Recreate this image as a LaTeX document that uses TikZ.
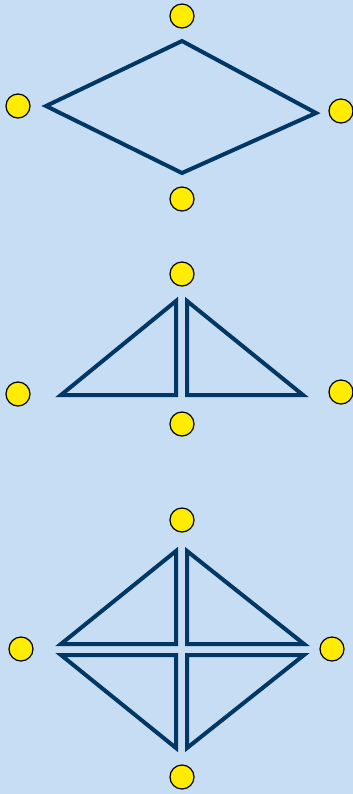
\documentclass[tikz,border=0pt]{standalone}
\usepackage{tikz}
\definecolor{paneback}{HTML}{C6DDF3}
\definecolor{edgeblue}{HTML}{003764}
\definecolor{dotyellow}{HTML}{FFEC00}
\tikzset{
  dot/.style={circle, draw=black, fill=dotyellow, line width=0.3mm,
              minimum size=6mm, inner sep=0pt},
  outline/.style={draw=edgeblue, line width=1mm, miter limit=10},
}
\begin{document}
\begin{tikzpicture}[x=0.25mm, y=-0.25mm]
    \fill[paneback] (0,0) rectangle (353,794);
    \useasboundingbox (0,0) rectangle (353,794);
    \node[dot] (a-n) at (182,16) {};
    \node[dot] (a-w) at (18,106) {};
    \node[dot] (a-e) at (341,111) {};
    \node[dot] (a-s) at (182,199) {};
    \draw[outline] (182,41) -- (46,106) -- (182,173) -- (316,113) -- cycle;
    \node[dot] (b-n) at (182,274) {};
    \node[dot] (b-w) at (18,394) {};
    \node[dot] (b-e) at (341,392) {};
    \node[dot] (b-s) at (182,424) {};
    \draw[outline] (176,301) -- (176,395) -- (61,395) -- cycle;
    \draw[outline] (187,301) -- (187,395) -- (303,395) -- cycle;
    \node[dot] (c-n) at (182,520) {};
    \node[dot] (c-w) at (21,649) {};
    \node[dot] (c-e) at (332,649) {};
    \node[dot] (c-s) at (182,777) {};
    \draw[outline] (176,551) -- (176,644) -- (61,644) -- cycle;
    \draw[outline] (187,551) -- (187,644) -- (304,644) -- cycle;
    \draw[outline] (176,748) -- (176,655) -- (61,655) -- cycle;
    \draw[outline] (187,748) -- (187,655) -- (304,655) -- cycle;
  \end{tikzpicture}
\end{document}
